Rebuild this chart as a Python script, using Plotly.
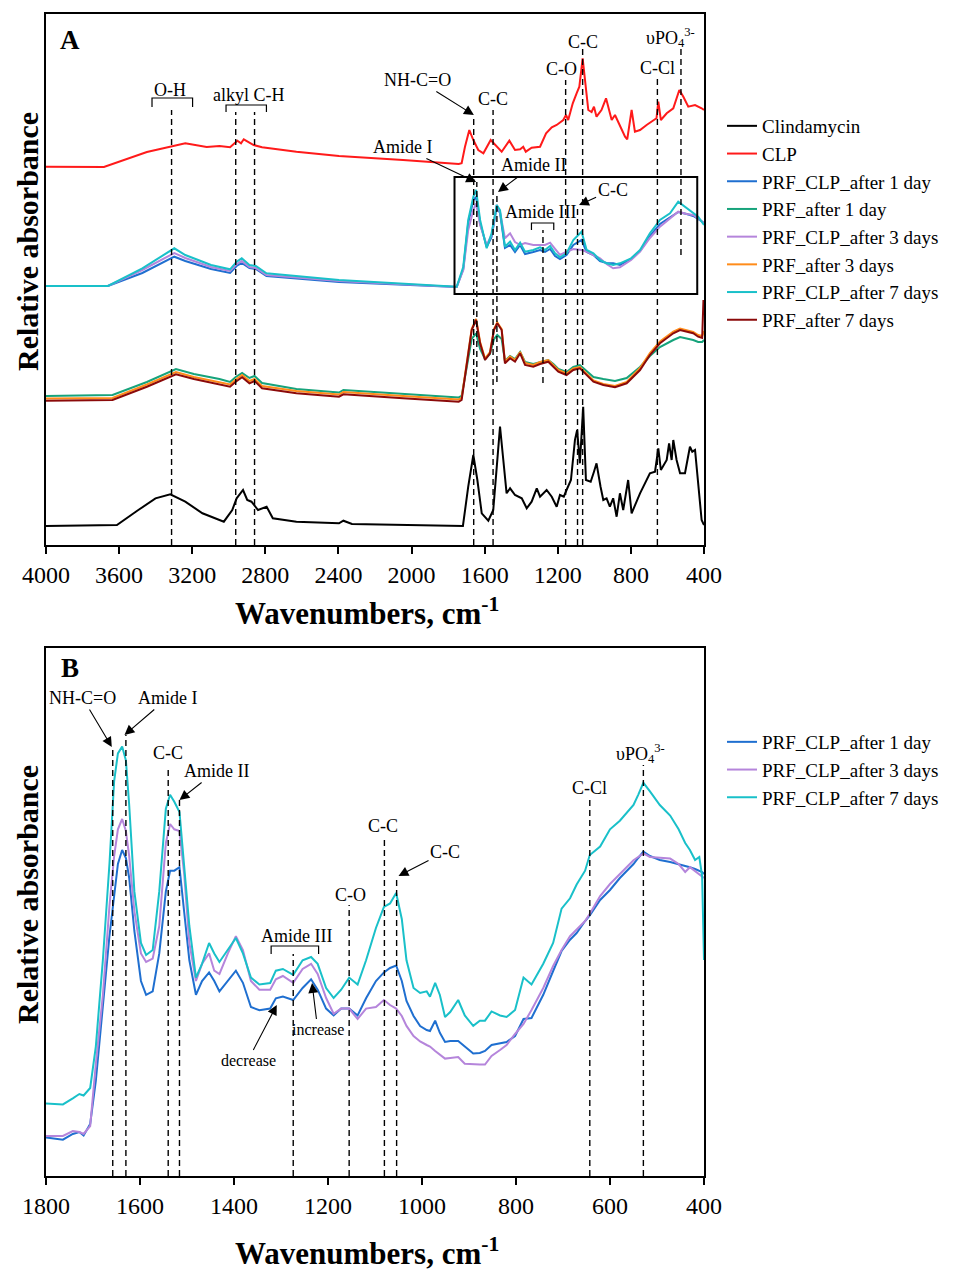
import plotly.graph_objects as go

# ---------------- Panel A data (relative absorbance, arbitrary offset units) ----------------
clinda_wn = [4000, 3612, 3495, 3401, 3320, 3238, 3144, 3027, 2981, 2957,
             2922, 2899, 2876, 2840, 2793, 2759, 2630, 2397, 2373, 2326,
             1719, 1690, 1662, 1640, 1616, 1580, 1553, 1531, 1516, 1498,
             1480, 1461, 1434, 1397, 1370, 1343, 1315, 1297, 1261, 1233,
             1206, 1188, 1167, 1152, 1128, 1106, 1094, 1079, 1061, 1046,
             1020, 1002, 988, 966, 951, 933, 915, 897, 878, 860,
             842, 815, 796, 750, 696, 668, 650, 636, 604, 591,
             577, 568, 550, 531, 504, 477, 464, 449, 440, 422,
             413, 400]
clinda_abs = [19, 20, 35, 46.7, 50.7, 43.3, 31.7, 23.3, 35, 46.7,
              55, 45, 43.3, 35, 38.3, 26.7, 23.3, 21.7, 24.3, 21,
              19, 58.3, 90, 65, 31.7, 24.3, 35, 85, 118.3, 85,
              51.7, 56.7, 50, 46.7, 36.7, 43.3, 56.7, 48.3, 55, 48.3,
              38.3, 50, 48.3, 55, 65, 105, 115, 81.7, 138.3, 65,
              63.3, 73.3, 81.7, 58.3, 45, 46.7, 38.3, 46.7, 28.3, 51.7,
              35, 65, 31.7, 51.7, 71.7, 73.3, 96.7, 75, 85, 101.7,
              85, 105, 85, 71.7, 71.7, 98.3, 93.3, 95, 78.3, 45,
              25, 20]

clp_wn = [4000, 3683, 3448, 3238, 3121, 3051, 2993, 2953, 2933, 2918,
          2864, 2818, 2630, 2397, 2047, 1742, 1726, 1708, 1684, 1662,
          1635, 1607, 1567, 1534, 1507, 1465, 1434, 1406, 1389, 1375,
          1343, 1297, 1264, 1233, 1206, 1170, 1155, 1143, 1118, 1097,
          1082, 1064, 1047, 1033, 1015, 1002, 988, 961, 936, 905,
          887, 860, 832, 820, 796, 778, 750, 714, 678, 660,
          650, 636, 604, 568, 535, 513, 486, 449, 413, 400]
clp_abs = [378.3, 378, 393, 401.7, 398, 399, 397.7, 404.3, 401.7, 405.7,
           400, 397.7, 393.3, 389, 385, 381, 381.7, 398, 415, 405,
           395, 391.7, 405, 398.3, 393.3, 404.3, 395, 395.7, 398.3, 393.3,
           397.3, 398.3, 411.7, 417.7, 420, 425, 430, 425, 441.7, 451.7,
           458.3, 486.7, 458.3, 435, 433, 438.3, 428.3, 435, 446.7, 425,
           430, 420, 408.3, 405.7, 435, 413.3, 415, 420, 425, 426.7,
           443.3, 425, 431.7, 436.7, 455, 448.3, 438.3, 440, 436.7, 435]

prfclp_A_wn = [4000, 3661, 3473, 3298, 3238, 3097, 2993, 2957, 2929, 2887,
               2852, 2794, 2397, 1753, 1717, 1690, 1662, 1647, 1625, 1589,
               1562, 1534, 1516, 1489, 1461, 1434, 1406, 1379, 1334, 1297,
               1270, 1242, 1215, 1188, 1152, 1115, 1070, 1042, 1005, 969,
               933, 897, 860, 799, 750, 696, 641, 586, 541, 495,
               459, 432, 400]
prfclp1_A = [259, 259, 272, 288.3, 284, 276, 272, 279, 282, 277,
             276, 269, 263, 258, 276, 322, 345, 348, 322, 298,
             308, 338, 332, 297, 300, 293, 300, 291, 293, 295,
             293, 296, 289, 286, 290, 300, 305, 293, 290, 284,
             282, 281.7, 280, 286, 294, 309, 321, 328, 333, 331,
             329, 326, 322]
prfclp3_A = [259, 259, 275, 292, 287, 278, 274, 281, 284, 278,
             277, 270, 264, 258, 275, 315, 335, 341.7, 320, 300,
             310, 340, 333, 306.7, 311.7, 303, 300, 302, 300, 300,
             300, 302.3, 296, 290, 293.3, 296, 295, 293.3, 290, 286.7,
             281, 276.7, 277.7, 285, 293.3, 307, 318.3, 327, 333.3, 331,
             330, 326.7, 322]
prfclp7_A = [259, 259, 276.7, 296.7, 290, 280, 275.7, 283.3, 286.7, 280,
             279, 271.7, 265, 258.3, 278.3, 325, 348.3, 355, 325, 296.7,
             311.7, 340, 335, 298.3, 303.3, 295, 302.3, 293.3, 295, 297.7,
             295, 299, 291.7, 287.7, 291.7, 305, 313.3, 295, 291.7, 285,
             281.7, 280, 281.7, 286.7, 295, 311.7, 325, 331.7, 343.3, 336.7,
             331.7, 328.3, 320]

prf_A_wn = [4000, 3636, 3448, 3289, 3191, 3051, 2993, 2962, 2927, 2887,
            2859, 2818, 2630, 2397, 2373, 2047, 1742, 1726, 1699, 1671,
            1647, 1625, 1598, 1571, 1549, 1531, 1507, 1489, 1461, 1434,
            1406, 1379, 1334, 1297, 1252, 1224, 1197, 1152, 1115, 1079,
            1042, 1005, 951, 887, 823, 750, 696, 641, 568, 531,
            459, 432, 410, 403, 400]
prf1_A = [149, 150, 163, 176, 171, 166, 163, 168, 172, 167,
          169, 162, 156, 152.5, 155, 151, 147.5, 149, 177, 206,
          211.7, 196, 186, 191, 206, 210, 206, 184, 189, 186,
          193, 183, 181, 183, 185, 181, 176, 173, 178, 180,
          174, 168, 166, 164, 167, 178, 189, 198, 205, 208,
          205, 203, 203, 204, 205]
prf3_A = [146.5, 147, 160.5, 173, 168, 163, 160.5, 165.5, 170, 164,
          166, 159, 154, 150.5, 153, 149, 145.5, 147, 180, 216,
          226, 203, 186.5, 193, 216, 222.5, 216, 183.5, 188.5, 185,
          193, 182, 180, 183, 185, 180, 175, 171.5, 176.5, 178,
          171.5, 164.5, 161, 159, 163, 177, 192, 203.5, 213.5, 216.5,
          213, 210, 209, 212, 214]
prf7_A = [144.3, 145, 158.3, 170.7, 166, 160.7, 158.3, 163.3, 167.7, 161.7,
          164, 156.7, 151.7, 148.3, 150.7, 146.7, 143.3, 145, 178.3, 215,
          225, 201.7, 185, 191.7, 215, 221.7, 215, 181.7, 186.7, 183.3,
          191.7, 180, 178.3, 181, 183.3, 178.3, 173.3, 170, 175, 176.7,
          170, 163.3, 160, 157.7, 161.7, 175, 190, 201.7, 211.7, 215,
          211.7, 208.3, 207, 245, 230]

# ---------------- Panel B data ----------------
b_wn = [1800, 1764, 1743, 1729, 1720, 1706, 1694, 1679, 1665, 1655,
        1647, 1638, 1630, 1623, 1612, 1598, 1587, 1573, 1559, 1545,
        1536, 1527, 1516, 1506, 1495, 1481, 1468, 1453, 1442, 1431,
        1413, 1396, 1381, 1364, 1346, 1323, 1311, 1296, 1274, 1254,
        1236, 1222, 1204, 1188, 1172, 1155, 1137, 1119, 1098, 1081,
        1068, 1055, 1043, 1033, 1018, 1004, 990, 983, 972, 962,
        951, 940, 923, 909, 891, 877, 866, 852, 834, 820,
        802, 784, 767, 742, 721, 703, 685, 671, 653, 643,
        621, 600, 579, 550, 540, 529, 515, 494, 472, 454,
        440, 430, 419, 410, 404, 400]
prfclp1_B = [38.5, 36.3, 42, 44, 40.5, 52, 95, 170, 240, 280,
             312, 326, 318, 298, 245, 195, 181.2, 184.6, 222.6, 284.6,
             305.3, 305.3, 308.8, 264, 215.7, 181.2, 195, 203.6, 195, 184.6,
             195, 205.3, 193.2, 169, 165.7, 167.4, 177.7, 179.4, 176, 188,
             196.7, 186.3, 167.4, 160.5, 167.4, 167.4, 160.5, 177.7, 195, 203.6,
             208, 210.5, 195, 175, 160, 150, 146, 145, 155.3, 143.2,
             134, 135, 135, 129.4, 122.6, 123, 125, 131, 133, 134,
             140, 157, 158, 181.2, 205, 225, 236.3, 243, 255, 260.5,
             276, 286, 298, 312, 318, 324.3, 320, 316, 314, 312,
             310, 308.8, 307, 305.3, 304, 302]
prfclp3_B = [40, 40, 45, 44, 42, 50, 112, 181, 270, 320,
             346.7, 357, 345, 320, 265, 222.6, 214, 217.4, 250, 333,
             352, 346.7, 345, 302, 233, 195, 212.2, 222.6, 205.3, 202,
             222.6, 239.8, 226, 195, 186.3, 186.3, 196.7, 200, 193.2, 207,
             212.2, 202, 178, 162.2, 167.4, 167.4, 157, 167.4, 169, 176,
             171, 167.4, 160, 150.1, 140, 134.6, 131, 129.4, 125, 121,
             117.4, 118, 119, 112.2, 111.5, 111.5, 111.5, 120, 126, 131,
             142, 152, 166, 188, 210, 226, 239.8, 246, 255, 262.2,
             280, 292, 302, 315.7, 319, 322.6, 319, 318, 317.4, 312,
             304, 308.8, 305, 302, 300, 298]
prfclp7_B = [72.6, 71.6, 77.7, 82, 80.5, 88, 129.4, 216, 312, 395,
             422.6, 429.4, 415.7, 371, 284.6, 233, 221, 226, 284.6, 367.4,
             381.2, 374.3, 364, 312.2, 250, 198.4, 212.2, 233, 222.6, 214,
             226, 238, 222.6, 198.4, 191.5, 193, 205.3, 207, 201.2, 215.7,
             219, 212.2, 188, 178, 186.3, 198.4, 191.5, 215.7, 248, 269,
             272.6, 283, 257, 215.7, 188, 183, 184.6, 179.4, 193.2, 181,
             159, 164, 176, 160.5, 150.1, 155.3, 155.3, 164.6, 160.5, 159,
             166, 198.4, 191.5, 212.2, 233, 267.4, 277.7, 291.5, 305.3, 321,
             329.4, 346.7, 355.3, 371, 381.2, 393.2, 384.6, 371, 360.5, 346.7,
             333, 326, 316, 319, 300, 216]

series_names = ["Clindamycin", "CLP", "PRF_CLP_after 1 day", "PRF_after 1 day",
                "PRF_CLP_after 3 days", "PRF_after 3 days", "PRF_CLP_after 7 days",
                "PRF_after 7 days"]
series_colors = ["#000000", "#ff1a1a", "#1f6fd0", "#16a37b",
                 "#b585db", "#ff8c1a", "#19c0c9", "#8b0a0a"]

# band assignment positions (cm-1)
bands_A = {"O-H": 3313, "CH1": 2962, "CH2": 2859, "NHCO": 1660, "AmI": 1643,
           "CC1": 1554, "AmII": 1533, "AmIII": 1281, "CO": 1157, "CC2": 1092,
           "CC3": 1064, "CCl": 655, "PO4": 526}
bands_B = {"NHCO": 1658, "AmI": 1630, "CC1": 1540, "AmII": 1516, "AmIII": 1274,
           "CO": 1155, "CC2": 1080, "CC3": 1054, "CCl": 643, "PO4": 529}

FONT = "Liberation Serif"
W, H = 962, 1272
PAGE_OFF = 8  # the browser page adds an 8px body margin


def fx(px):
    return (px - PAGE_OFF) / W


def fy(py):
    return 1 - (py - PAGE_OFF) / H


fig = go.Figure()

a_x = [clinda_wn, clp_wn, prfclp_A_wn, prf_A_wn, prfclp_A_wn, prf_A_wn, prfclp_A_wn, prf_A_wn]
a_y = [clinda_abs, clp_abs, prfclp1_A, prf1_A, prfclp3_A, prf3_A, prfclp7_A, prf7_A]
for nm, col, xs, ys in zip(series_names, series_colors, a_x, a_y):
    fig.add_trace(go.Scatter(x=xs, y=ys, mode="lines", name=nm,
                             line=dict(color=col, width=2),
                             xaxis="x", yaxis="y", legend="legend"))

for nm, col, ys in zip([series_names[2], series_names[4], series_names[6]],
                       [series_colors[2], series_colors[4], series_colors[6]],
                       [prfclp1_B, prfclp3_B, prfclp7_B]):
    fig.add_trace(go.Scatter(x=b_wn, y=ys, mode="lines", name=nm,
                             line=dict(color=col, width=2),
                             xaxis="x2", yaxis="y2", legend="legend2"))

shapes = []
DASH = dict(color="black", width=1.4, dash="6px,4px")


def vline(xref, yref, x, y0, y1):
    shapes.append(dict(type="line", xref=xref, yref=yref, x0=x, x1=x, y0=y0, y1=y1, line=DASH))


def bracket(xref, yref, x0, x1, ytop, ybot):
    shapes.append(dict(type="path", xref=xref, yref=yref,
                       path=f"M {x0},{ybot} L {x0},{ytop} L {x1},{ytop} L {x1},{ybot}",
                       line=dict(color="black", width=1.2)))


# Panel A guide lines
vline("x", "y", bands_A["O-H"], 0, 435)
vline("x", "y", bands_A["CH1"], 0, 433)
vline("x", "y", bands_A["CH2"], 0, 433)
vline("x", "y", bands_A["NHCO"], 0, 430)
vline("x", "y", bands_A["AmI"], 158, 363)
vline("x", "y", bands_A["CC1"], 0, 435)
vline("x", "y", bands_A["AmII"], 163, 353)
vline("x", "y", bands_A["AmIII"], 162, 315)
vline("x", "y", bands_A["CO"], 0, 465)
vline("x", "y", bands_A["CC2"], 0, 340)
vline("x", "y", bands_A["CC3"], 0, 497)
vline("x", "y", bands_A["CCl"], 0, 467)
vline("x", "y", bands_A["PO4"], 290, 498)
bracket("x", "y", 3420, 3198, 447, 438)
bracket("x", "y", 3015, 2794, 440, 433)
bracket("x", "y", 1344, 1222, 322, 315)
shapes.append(dict(type="rect", xref="x", yref="y", x0=1765, x1=437, y0=251, y1=368,
                   line=dict(color="black", width=2)))

# Panel B guide lines
vline("x2", "y2", bands_B["NHCO"], 0, 429)
vline("x2", "y2", bands_B["AmI"], 0, 441)
vline("x2", "y2", bands_B["CC1"], 0, 408)
vline("x2", "y2", bands_B["AmII"], 0, 376)
vline("x2", "y2", bands_B["AmIII"], 0, 222)
vline("x2", "y2", bands_B["CO"], 0, 271)
vline("x2", "y2", bands_B["CC2"], 0, 340)
vline("x2", "y2", bands_B["CC3"], 0, 300)
vline("x2", "y2", bands_B["CCl"], 0, 376)
vline("x2", "y2", bands_B["PO4"], 0, 411)
bracket("x2", "y2", 1321, 1220, 230, 222)

ann = []
LF = dict(family=FONT, size=18, color="black")


def label(xr, yr, x, y, t, size=18, bold=False):
    f = dict(LF)
    f["size"] = size
    ann.append(dict(xref=xr, yref=yr, x=x, y=y, text=(f"<b>{t}</b>" if bold else t),
                    xanchor="center", yanchor="middle", showarrow=False, font=f))


def arrow(xr, yr, x, y, tx, ty, t, size=18):
    f = dict(LF)
    f["size"] = size
    ann.append(dict(xref=xr, yref=yr, x=x, y=y, axref=xr, ayref=yr, ax=tx, ay=ty,
                    text=t, showarrow=True, arrowhead=2, arrowsize=1.8, arrowwidth=1.1,
                    arrowcolor="black", font=f))


PO4 = "υPO<sub>4</sub><sup>3-</sup>"
# Panel A labels
label("x", "y", 3869, 505, "A", 27, True)
label("x", "y", 3322, 455, "O-H")
label("x", "y", 2887, 450, "alkyl C-H")
arrow("x", "y", 1659, 430, 1965, 465, "NH-C=O")
label("x", "y", 1554, 446, "C-C")
label("x", "y", 1177, 476, "C-O")
label("x", "y", 1064, 503, "C-C")
label("x", "y", 655, 477, "C-Cl")
label("x", "y", 586, 508, PO4)
arrow("x", "y", 1647, 363, 2052, 398, "Amide I")
arrow("x", "y", 1527, 353, 1332, 380, "Amide II")
label("x", "y", 1297, 333, "Amide III")
arrow("x", "y", 1084, 340, 900, 355, "C-C")

# Panel B labels
label("x2", "y2", 1749, 508, "B", 27, True)
arrow("x2", "y2", 1660, 429, 1722, 478, "NH-C=O")
arrow("x2", "y2", 1633, 441, 1541, 478, "Amide I")
label("x2", "y2", 1540, 423, "C-C")
arrow("x2", "y2", 1516, 376, 1438, 405, "Amide II")
label("x2", "y2", 1268, 240, "Amide III")
arrow("x2", "y2", 1309, 171, 1370, 116, "decrease", 16)
arrow("x2", "y2", 1234, 193, 1222, 147, "increase", 16)
label("x2", "y2", 1153, 281, "C-O")
label("x2", "y2", 1082, 350, "C-C")
arrow("x2", "y2", 1050, 300, 951, 324, "C-C")
label("x2", "y2", 643, 388, "C-Cl")
label("x2", "y2", 536, 423, PO4)

# Axis titles (placed as paper annotations)
TF = dict(family=FONT, size=31, color="black")
XT = "<b>Wavenumbers, cm<sup>-1</sup></b>"
YT = "<b>Relative absorbance</b>"
for (xx, yy, t, ang, sz) in [(367, 611, XT, 0, 31), (367, 1251, XT, 0, 31),
                             (27, 242, YT, -90, 30), (27, 895, YT, -90, 30)]:
    ann.append(dict(xref="paper", yref="paper", x=fx(xx), y=fy(yy), text=t, showarrow=False,
                    xanchor="center", yanchor="middle", textangle=ang, font=dict(TF, size=sz)))

axis_common = dict(showline=True, linecolor="black", linewidth=2, mirror=True,
                   showgrid=False, zeroline=False, automargin=False)
xcommon = dict(axis_common, ticks="outside", ticklen=7, tickwidth=1.5, tickcolor="black",
               tickfont=dict(family=FONT, size=24, color="black"))
ycommon = dict(axis_common, ticks="", showticklabels=False)

xdom = [fx(46), fx(704)]
LEG = dict(x=fx(722), xanchor="left", yanchor="top",
           font=dict(family=FONT, size=19, color="black"), bgcolor="rgba(0,0,0,0)",
           tracegroupgap=0)
fig.update_layout(
    width=W, height=H, margin=dict(l=0, r=0, t=0, b=0, autoexpand=False),
    paper_bgcolor="white", plot_bgcolor="white",
    xaxis=dict(xcommon, domain=xdom, anchor="y", range=[4000, 400],
               tickmode="array", tickvals=[4000, 3600, 3200, 2800, 2400, 2000, 1600, 1200, 800, 400]),
    yaxis=dict(ycommon, domain=[fy(545), fy(14)], anchor="x", range=[0, 531]),
    xaxis2=dict(xcommon, domain=xdom, anchor="y2", range=[1800, 400],
                tickmode="array", tickvals=[1800, 1600, 1400, 1200, 1000, 800, 600, 400]),
    yaxis2=dict(ycommon, domain=[fy(1176), fy(648)], anchor="x2", range=[0, 528]),
    legend=dict(LEG, y=fy(107)),
    legend2=dict(LEG, y=fy(723)),
    shapes=shapes, annotations=ann, showlegend=True,
)

fig.write_html("out.html")
